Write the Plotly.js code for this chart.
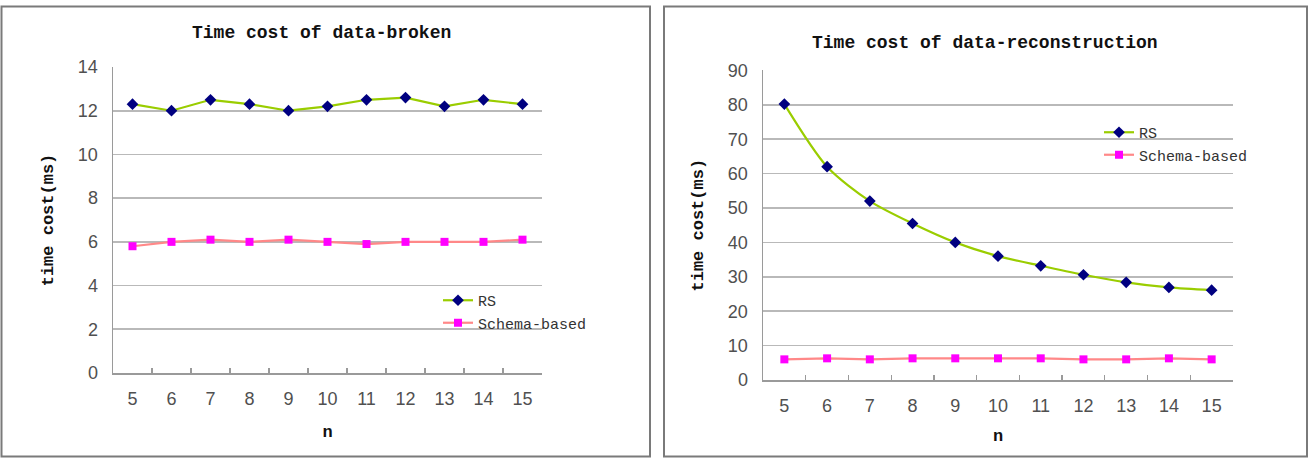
<!DOCTYPE html>
<html>
<head>
<meta charset="utf-8">
<script src="https://cdn.plot.ly/plotly-3.0.1.min.js"></script>
<style>
  html, body { margin: 0; padding: 0; background: #ffffff; }
  #chart { width: 1314px; height: 459px; }
</style>
</head>
<body>
<div id="chart"></div>
<script>
// Number of nodes n on the horizontal axis
const nValues = ['5', '6', '7', '8', '9', '10', '11', '12', '13', '14', '15'];

// Time cost of data-broken (ms)
const brokenRS = [12.3, 12.0, 12.5, 12.3, 12.0, 12.2, 12.5, 12.6, 12.2, 12.5, 12.3];
const brokenSchema = [5.8, 6.0, 6.1, 6.0, 6.1, 6.0, 5.9, 6.0, 6.0, 6.0, 6.1];

// Time cost of data-reconstruction (ms)
const reconRS = [80.2, 62.0, 52.0, 45.5, 40.0, 36.0, 33.2, 30.6, 28.4, 26.9, 26.1];
const reconSchema = [6.0, 6.3, 6.0, 6.3, 6.3, 6.3, 6.3, 6.0, 6.0, 6.3, 6.0];

const seriesNames = ['RS', 'Schema-based'];
const panelTitles = ['Time cost of data-broken', 'Time cost of data-reconstruction'];
const yTitle = 'time cost(ms)';
const xTitle = 'n';

const W = 1314, H = 459;
const px = x => x / W;
const py = y => 1 - y / H;

const rsLine = { color: '#9acd00', width: 2.2 };
const rsMarker = { symbol: 'diamond', color: '#000080', size: 9 };
const schemaLine = { color: '#ff8888', width: 2.2 };
const schemaMarker = { symbol: 'square', color: '#ff00ff', size: 8 };

const traces = [
  { x: nValues, y: brokenRS, name: seriesNames[0], mode: 'lines+markers',
    line: rsLine, marker: rsMarker, xaxis: 'x', yaxis: 'y', legend: 'legend' },
  { x: nValues, y: brokenSchema, name: seriesNames[1], mode: 'lines+markers',
    line: schemaLine, marker: schemaMarker, xaxis: 'x', yaxis: 'y', legend: 'legend' },
  { x: nValues, y: reconRS, name: seriesNames[0], mode: 'lines+markers',
    line: Object.assign({ shape: 'spline', smoothing: 0.8 }, rsLine), marker: rsMarker,
    xaxis: 'x2', yaxis: 'y2', legend: 'legend2' },
  { x: nValues, y: reconSchema, name: seriesNames[1], mode: 'lines+markers',
    line: schemaLine, marker: schemaMarker, xaxis: 'x2', yaxis: 'y2', legend: 'legend2' }
];

const tickFont = { family: 'Liberation Sans, Arial, sans-serif', size: 18, color: '#505050' };
const titleFont = { family: 'Liberation Mono, DejaVu Sans Mono, monospace', size: 17, color: '#111111', weight: 'bold' };
const legendFont = { family: 'Liberation Mono, DejaVu Sans Mono, monospace', size: 15, color: '#333333' };

function xAxis(domain, standoff) {
  return {
    domain: domain, type: 'category', range: [-0.5, 10.5],
    showline: true, linecolor: '#9a9a9a', linewidth: 1.5,
    showgrid: false, zeroline: false,
    ticks: 'inside', tickson: 'boundaries', ticklen: 5, tickcolor: '#9a9a9a', tickwidth: 1.2,
    tickfont: tickFont, ticklabelstandoff: 9,
    title: { text: xTitle, font: titleFont, standoff: standoff },
    fixedrange: true
  };
}
function yAxis(domain, range, dtick) {
  return {
    domain: domain, range: range, dtick: dtick, tick0: 0,
    showline: true, linecolor: '#9a9a9a', linewidth: 1.5,
    showgrid: true, gridcolor: '#b9b9b9', gridwidth: 1.6,
    zeroline: false, ticks: '',
    tickfont: tickFont, ticklabelstandoff: 10,
    title: { text: yTitle, font: titleFont, standoff: 20 },
    fixedrange: true
  };
}

const layout = {
  width: W, height: H,
  margin: { l: 0, r: 0, t: 0, b: 0 },
  paper_bgcolor: '#ffffff', plot_bgcolor: '#ffffff',
  showlegend: true,
  xaxis: xAxis([px(113), px(542)], 17),
  yaxis: Object.assign(yAxis([py(373), py(67)], [0, 14], 2), { anchor: 'x' }),
  xaxis2: Object.assign(xAxis([px(763), px(1233)], 14), { anchor: 'y2' }),
  yaxis2: Object.assign(yAxis([py(380), py(70.4)], [0, 90], 10), { anchor: 'x2' }),
  legend: {
    x: px(438), y: py(284), xanchor: 'left', yanchor: 'top',
    bgcolor: 'rgba(0,0,0,0)', font: legendFont, tracegroupgap: 0, itemwidth: 30
  },
  legend2: {
    x: px(1099), y: py(116), xanchor: 'left', yanchor: 'top',
    bgcolor: 'rgba(0,0,0,0)', font: legendFont, tracegroupgap: 0, itemwidth: 30
  },
  annotations: [
    { text: panelTitles[0], x: px(321), y: py(33), xref: 'paper', yref: 'paper',
      xanchor: 'center', yanchor: 'middle', showarrow: false,
      font: { family: titleFont.family, size: 18, color: '#111111', weight: 'bold' } },
    { text: panelTitles[1], x: px(985), y: py(43), xref: 'paper', yref: 'paper',
      xanchor: 'center', yanchor: 'middle', showarrow: false,
      font: { family: titleFont.family, size: 18, color: '#111111', weight: 'bold' } }
  ],
  shapes: [
    { type: 'rect', xref: 'paper', yref: 'paper',
      x0: px(1.5), x1: px(650), y0: py(456.5), y1: py(6.5),
      line: { color: '#7a7a7a', width: 2 } },
    { type: 'rect', xref: 'paper', yref: 'paper',
      x0: px(664), x1: px(1307), y0: py(456.5), y1: py(6.5),
      line: { color: '#7a7a7a', width: 2 } }
  ]
};

Plotly.newPlot('chart', traces, layout, { displayModeBar: false, staticPlot: true });
</script>
</body>
</html>
